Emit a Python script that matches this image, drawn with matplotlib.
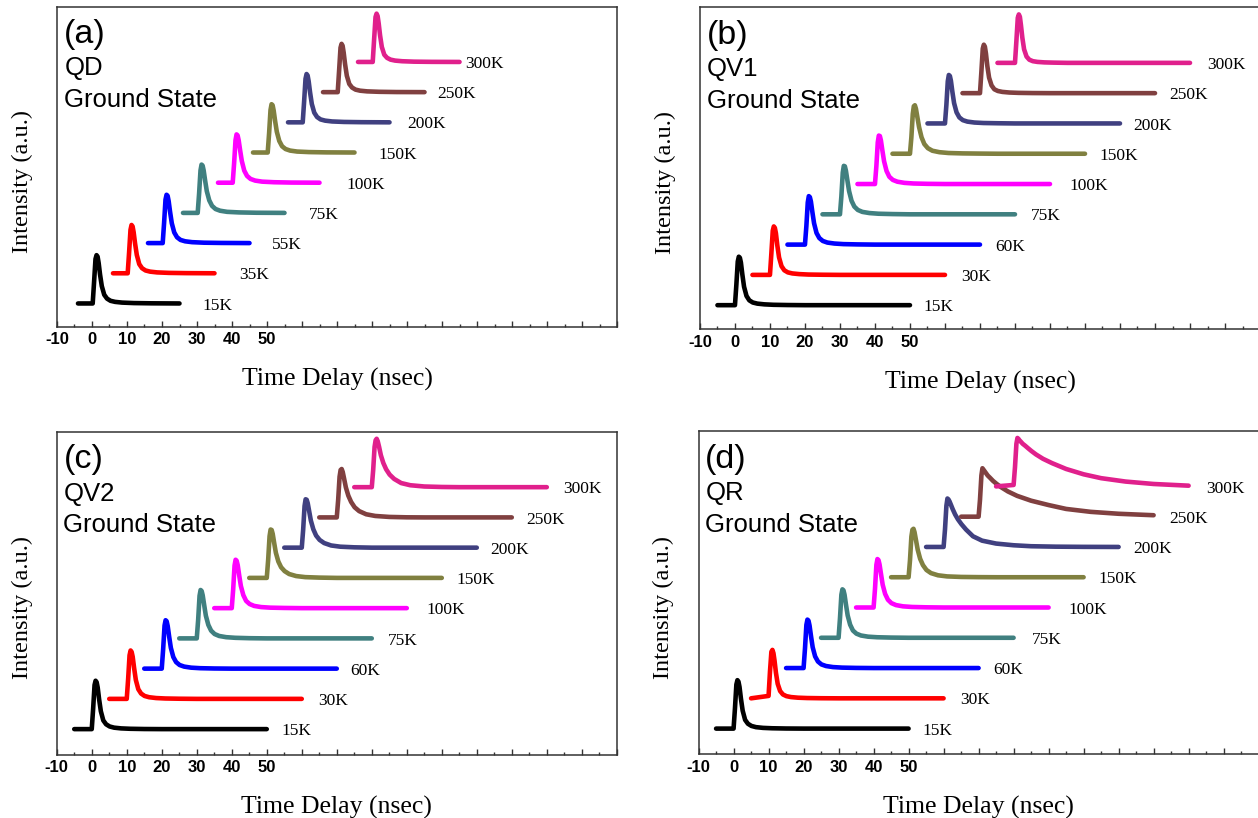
import matplotlib
matplotlib.use("Agg")
import matplotlib.pyplot as plt
from matplotlib.ticker import FixedLocator, MultipleLocator

# temperatures of the stacked traces
temps_qd = ["15K", "35K", "55K", "75K", "100K", "150K", "200K", "250K", "300K"]
temps_q = ["15K", "30K", "60K", "75K", "100K", "150K", "200K", "250K", "300K"]

colors = ["#000000", "#ff0000", "#0000ff", "#408080", "#ff00ff",
          "#808040", "#404080", "#804040", "#e0208c"]

# waterfall offsets of each trace (ns, a.u.)
x_shift = [0, 10, 20, 30, 40, 50, 60, 70, 80]
y_shift = [0, 1, 2, 3, 4, 5, 6, 7, 8]
peak_height = 1.6

# time grid of the first trace (ns)
t_qd = [-4, 0.2, 0.6, 1.0, 1.3, 1.6, 1.9, 2.3, 2.8, 3.5, 4.3, 5.3, 6.6, 8.6, 12, 17, 25]
t_q = [-5, 0, 0.4, 0.8, 1.1, 1.4, 1.7, 2.1, 2.6, 3.3, 4.1, 5.1, 6.4, 8.4, 11, 15, 20, 25, 32, 40, 50]

# normalized PL decays
qd = [
    [0, 0, 0.45, 0.92, 1.0, 0.97, 0.84, 0.60, 0.36, 0.18, 0.100, 0.055, 0.033, 0.018, 0.008, 0.003, 0],
    [0, 0, 0.43, 0.90, 1.0, 0.97, 0.85, 0.62, 0.38, 0.19, 0.105, 0.058, 0.034, 0.018, 0.008, 0.003, 0],
    [0, 0, 0.42, 0.90, 1.0, 0.98, 0.87, 0.65, 0.41, 0.22, 0.120, 0.065, 0.037, 0.019, 0.008, 0.003, 0],
    [0, 0, 0.40, 0.88, 1.0, 0.98, 0.88, 0.68, 0.45, 0.26, 0.145, 0.080, 0.045, 0.022, 0.010, 0.003, 0],
    [0, 0, 0.40, 0.88, 1.0, 0.98, 0.88, 0.68, 0.45, 0.25, 0.140, 0.078, 0.044, 0.022, 0.010, 0.003, 0],
    [0, 0, 0.40, 0.88, 1.0, 0.98, 0.87, 0.66, 0.43, 0.24, 0.130, 0.072, 0.040, 0.020, 0.009, 0.003, 0],
    [0, 0, 0.43, 0.90, 1.0, 0.97, 0.85, 0.62, 0.38, 0.20, 0.110, 0.060, 0.035, 0.018, 0.008, 0.003, 0],
    [0, 0, 0.45, 0.92, 1.0, 0.96, 0.82, 0.58, 0.34, 0.17, 0.095, 0.052, 0.030, 0.016, 0.007, 0.002, 0],
    [0, 0, 0.47, 0.93, 1.0, 0.95, 0.80, 0.55, 0.31, 0.15, 0.085, 0.048, 0.028, 0.015, 0.006, 0.002, 0],
]
qv1 = [
    [0, 0, 0.42, 0.90, 1.0, 0.98, 0.88, 0.64, 0.38, 0.19, 0.100, 0.055, 0.032, 0.017, 0.008, 0.003, 0, 0, 0, 0, 0],
    [0, 0, 0.44, 0.91, 1.0, 0.97, 0.86, 0.61, 0.36, 0.18, 0.095, 0.052, 0.030, 0.016, 0.007, 0.003, 0, 0, 0, 0, 0],
    [0, 0, 0.38, 0.87, 1.0, 0.98, 0.89, 0.68, 0.44, 0.24, 0.135, 0.075, 0.042, 0.022, 0.010, 0.004, 0, 0, 0, 0, 0],
    [0, 0, 0.37, 0.86, 1.0, 0.99, 0.90, 0.71, 0.48, 0.28, 0.160, 0.090, 0.050, 0.026, 0.012, 0.005, 0, 0, 0, 0, 0],
    [0, 0, 0.37, 0.86, 1.0, 0.99, 0.90, 0.70, 0.47, 0.27, 0.150, 0.085, 0.048, 0.024, 0.011, 0.004, 0, 0, 0, 0, 0],
    [0, 0, 0.34, 0.82, 0.98, 1.0, 0.93, 0.76, 0.55, 0.34, 0.200, 0.115, 0.062, 0.032, 0.015, 0.007, 0.003, 0, 0, 0, 0],
    [0, 0, 0.38, 0.87, 1.0, 0.98, 0.88, 0.66, 0.42, 0.23, 0.125, 0.068, 0.038, 0.019, 0.009, 0.004, 0, 0, 0, 0, 0],
    [0, 0, 0.44, 0.92, 1.0, 0.96, 0.82, 0.56, 0.32, 0.16, 0.080, 0.045, 0.026, 0.013, 0.006, 0.002, 0, 0, 0, 0, 0],
    [0, 0, 0.45, 0.93, 1.0, 0.95, 0.78, 0.52, 0.28, 0.13, 0.065, 0.035, 0.020, 0.010, 0.005, 0, 0, 0, 0, 0, 0],
]
qv2 = [
    [0, 0, 0.42, 0.91, 1.0, 0.97, 0.86, 0.62, 0.37, 0.18, 0.10, 0.055, 0.030, 0.015, 0.007, 0.002, 0, 0, 0, 0, 0],
    [0, 0, 0.41, 0.90, 1.0, 0.97, 0.87, 0.64, 0.39, 0.20, 0.11, 0.060, 0.034, 0.017, 0.008, 0.003, 0, 0, 0, 0, 0],
    [0, 0, 0.40, 0.89, 1.0, 0.98, 0.88, 0.67, 0.43, 0.24, 0.135, 0.075, 0.042, 0.020, 0.009, 0.003, 0, 0, 0, 0, 0],
    [0, 0, 0.38, 0.88, 1.0, 0.98, 0.89, 0.70, 0.47, 0.28, 0.16, 0.090, 0.050, 0.025, 0.012, 0.004, 0, 0, 0, 0, 0],
    [0, 0, 0.38, 0.88, 1.0, 0.98, 0.89, 0.69, 0.46, 0.27, 0.15, 0.085, 0.046, 0.022, 0.010, 0.004, 0, 0, 0, 0, 0],
    [0, 0, 0.37, 0.86, 1.0, 0.99, 0.91, 0.73, 0.52, 0.34, 0.22, 0.140, 0.080, 0.038, 0.016, 0.006, 0, 0, 0, 0, 0],
    [0, 0, 0.37, 0.86, 1.0, 0.99, 0.92, 0.76, 0.56, 0.38, 0.25, 0.160, 0.095, 0.045, 0.020, 0.007, 0, 0, 0, 0, 0],
    [0, 0, 0.36, 0.84, 0.98, 1.0, 0.94, 0.80, 0.62, 0.45, 0.32, 0.210, 0.130, 0.065, 0.030, 0.010, 0.002, 0, 0, 0, 0],
    [0, 0, 0.35, 0.83, 0.97, 1.0, 0.95, 0.83, 0.66, 0.50, 0.37, 0.260, 0.170, 0.085, 0.040, 0.014, 0.004, 0, 0, 0, 0],
]
qr = [
    [0, 0, 0.42, 0.91, 1.0, 0.97, 0.86, 0.62, 0.37, 0.18, 0.10, 0.055, 0.030, 0.015, 0.007, 0.002, 0, 0, 0, 0, 0],
    [0, 0.05, 0.55, 0.96, 1.0, 0.93, 0.78, 0.53, 0.30, 0.15, 0.08, 0.045, 0.026, 0.013, 0.006, 0.002, 0, 0, 0, 0, 0],
    [0, 0, 0.40, 0.89, 1.0, 0.98, 0.88, 0.67, 0.43, 0.24, 0.135, 0.075, 0.042, 0.020, 0.009, 0.003, 0, 0, 0, 0, 0],
    [0, 0, 0.40, 0.89, 1.0, 0.98, 0.89, 0.69, 0.46, 0.27, 0.15, 0.085, 0.047, 0.023, 0.011, 0.004, 0, 0, 0, 0, 0],
    [0, 0, 0.38, 0.88, 1.0, 0.98, 0.89, 0.70, 0.47, 0.28, 0.16, 0.090, 0.050, 0.024, 0.011, 0.004, 0, 0, 0, 0, 0],
    [0, 0, 0.35, 0.84, 0.98, 1.0, 0.93, 0.77, 0.57, 0.38, 0.25, 0.150, 0.085, 0.040, 0.017, 0.006, 0.002, 0, 0, 0, 0],
    [0, 0, 0.36, 0.85, 1.0, 0.98, 0.94, 0.87, 0.78, 0.67, 0.57, 0.47, 0.36, 0.22, 0.13, 0.070, 0.035, 0.015, 0.006, 0.002, 0],
    [0, 0, 0.35, 0.85, 1.0, 0.97, 0.94, 0.90, 0.85, 0.80, 0.74, 0.68, 0.61, 0.52, 0.43, 0.33, 0.24, 0.16, 0.10, 0.06, 0.03],
    [0, 0.03, 0.40, 0.88, 1.0, 0.98, 0.95, 0.92, 0.88, 0.84, 0.79, 0.73, 0.66, 0.57, 0.48, 0.36, 0.25, 0.17, 0.10, 0.05, 0.015],
]

# where the temperature labels start (ns)
lab_x_qd = [31.5, 42, 51.4, 62, 72.6, 81.7, 90, 98.6, 106.6]
lab_x_qv1 = [53.9, 64.6, 74.4, 84.6, 95.6, 104.2, 113.8, 124.2, 135]
lab_x_qv2 = [54.2, 64.8, 73.9, 84.5, 95.5, 104.3, 113.8, 124, 134.6]
lab_x_qr = [54, 64.7, 74.1, 85.1, 95.8, 104.3, 114.1, 124.4, 135.1]

xticks = list(range(-10, 151, 10))
xtick_labels = ["-10", "0", "10", "20", "30", "40", "50"] + [""] * 10

serif = "Liberation Serif"
sans = "Liberation Sans"

fig = plt.figure(figsize=(12.58, 8.18), dpi=100)

panels = [
    ([0.0453, 0.6006, 0.4452, 0.3912], (-0.77, 9.83), "(a)", "QD", t_qd, qd, temps_qd, lab_x_qd),
    ([0.5564, 0.5973, 0.4452, 0.3936], (-0.80, 9.83), "(b)", "QV1", t_q, qv1, temps_q, lab_x_qv1),
    ([0.0451, 0.0776, 0.4452, 0.3945], (-0.84, 9.83), "(c)", "QV2", t_q, qv2, temps_q, lab_x_qv2),
    ([0.5553, 0.0782, 0.4452, 0.3949], (-0.84, 9.83), "(d)", "QR", t_q, qr, temps_q, lab_x_qr),
]

for rect, ylim, letter, name, tgrid, decays, temps, lab_x in panels:
    ax = fig.add_axes(rect)
    for i in range(len(decays)):
        x = [t + x_shift[i] for t in tgrid]
        y = [y_shift[i] + peak_height * v for v in decays[i]]
        ax.plot(x, y, color=colors[i], lw=3.3,
                solid_capstyle="round", solid_joinstyle="round")
        ax.text(lab_x[i], y_shift[i] - 0.07, temps[i], fontsize=12.5,
                family=serif, ha="left", va="center")

    ax.set_xlim(-10, 150)
    ax.set_ylim(*ylim)
    ax.xaxis.set_major_locator(FixedLocator(xticks))
    ax.set_xticklabels(xtick_labels, fontsize=12, fontweight="bold", family=sans)
    ax.xaxis.set_minor_locator(MultipleLocator(5))
    ax.tick_params(axis="x", which="major", direction="in", length=4.5,
                   width=1.0, pad=4, color="#333333")
    ax.tick_params(axis="x", which="minor", direction="in", length=2.2,
                   width=1.0, color="#333333")
    ax.set_yticks([])
    for s in ax.spines.values():
        s.set_color("#333333")
        s.set_linewidth(1.1)

    ax.set_xlabel("Time Delay (nsec)", fontsize=18.5, family=serif)
    ax.xaxis.set_label_coords(0.5, -0.165)
    ax.xaxis.label.set_va("center")
    ax.set_ylabel("Intensity (a.u.)", fontsize=17.5, family=serif)
    ax.yaxis.set_label_coords(-0.062, 0.455)
    ax.yaxis.label.set_va("center")

    ax.text(0.012, 0.913, letter, transform=ax.transAxes, fontsize=24.5,
            family=sans, ha="left", va="center")
    ax.text(0.013, 0.808, name, transform=ax.transAxes, fontsize=18.5,
            family=sans, ha="left", va="center")
    ax.text(0.012, 0.71, "Ground State", transform=ax.transAxes, fontsize=18.5,
            family=sans, ha="left", va="center")

fig.savefig("out.png", dpi=100)
